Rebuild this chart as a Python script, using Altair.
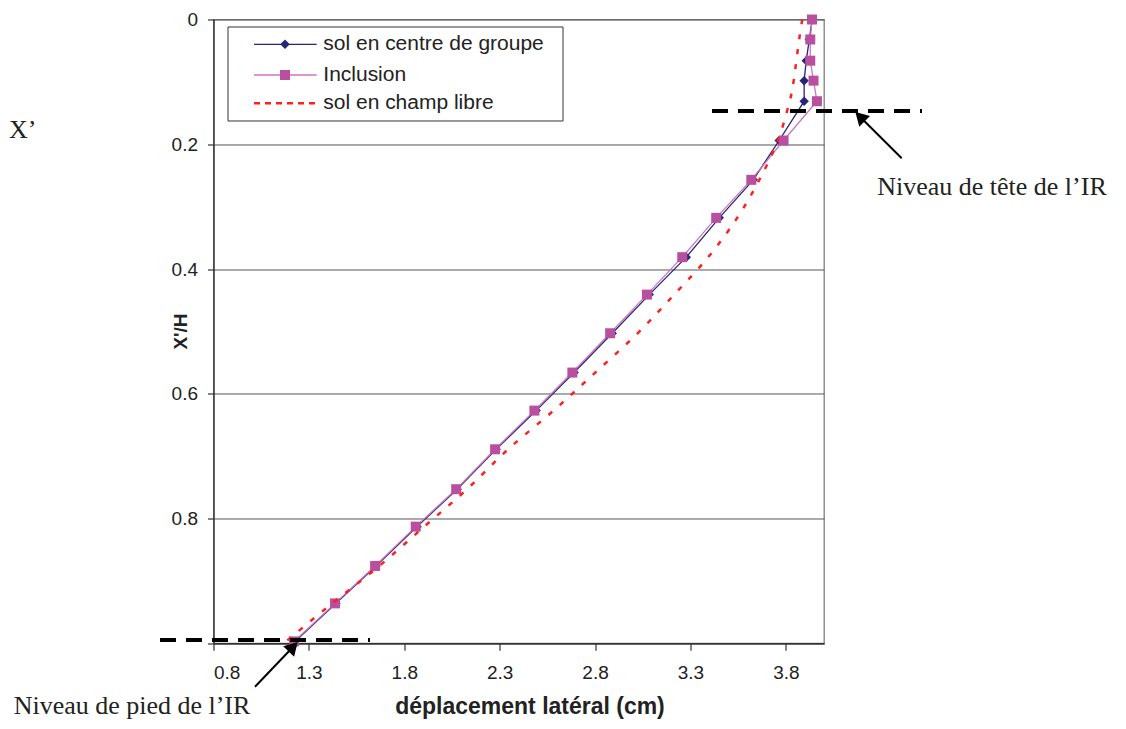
import altair as alt
import pandas as pd

# ---- data ----
depth = [0, 0.032, 0.066, 0.098, 0.131, 0.194, 0.257, 0.318, 0.381, 0.441,
         0.503, 0.566, 0.627, 0.689, 0.753, 0.813, 0.876, 0.936, 0.997]
centre = [3.938, 3.923, 3.907, 3.896, 3.896, 3.765, 3.629, 3.451, 3.278, 3.084,
          2.890, 2.690, 2.491, 2.281, 2.077, 1.867, 1.652, 1.442, 1.227]
inclusion = [3.937, 3.928, 3.928, 3.945, 3.963, 3.788, 3.619, 3.435, 3.257, 3.072,
             2.879, 2.681, 2.482, 2.276, 2.072, 1.860, 1.647, 1.437, 1.222]
libre = [3.886, 3.870, 3.855, 3.841, 3.820, 3.758, 3.661, 3.545, 3.393, 3.215,
         3.023, 2.801, 2.582, 2.344, 2.129, 1.904, 1.669, 1.422, 1.180]
series_names = ["sol en centre de groupe", "Inclusion", "sol en champ libre"]
x_ticks = [0.8, 1.3, 1.8, 2.3, 2.8, 3.3, 3.8]
y_ticks = [0, 0.2, 0.4, 0.6, 0.8, 1.0]
x_title = "déplacement latéral (cm)"
y_title = "X'/H"
note_tete = "Niveau de tête de l\u2019IR"
note_pied = "Niveau de pied de l\u2019IR"
note_x = "X\u2019"

# ---- layout ----
W, H = 610.5, 623.8
X_DOM = [0.8, 4.0]
PAD = {"left": 205.5, "top": 11.5, "right": 292, "bottom": 77.5}


def dx(px):  # page pixel -> data x
    return X_DOM[0] + (px - 8 - PAD["left"]) / W * (X_DOM[1] - X_DOM[0])


def dy(py):  # page pixel -> data y
    return (py - 8 - PAD["top"]) / H


NAVY = "#262678"
MAG = "#b9509f"
PINK = "#cf74c0"
RED = "#ff1f1f"
SANS = "Liberation Sans"
SERIF = "Liberation Serif"

rows = []
for name, vals in zip(series_names, [centre, inclusion, libre]):
    for i, (d, v) in enumerate(zip(depth, vals)):
        rows.append({"series": name, "idx": i, "depth": d, "disp": v})
df = pd.DataFrame(rows)

xs = alt.Scale(domain=X_DOM, nice=False, zero=False)
ys = alt.Scale(domain=[0, 1], reverse=True, nice=False, zero=False)

x_axis = alt.Axis(values=x_ticks, format=".1f", grid=False, tickSize=7,
                  labelPadding=13, labelFontSize=19, labelFont=SANS,
                  labelColor="#222", title=x_title, titleFont=SANS,
                  titleFontSize=23, titleFontWeight="bold", titleColor="#222",
                  titleX=316, titleY=63, titleBaseline="middle",
                  titleAlign="center")
y_axis = alt.Axis(values=y_ticks, format=".1~f",
                  labelExpr="datum.value == 1 ? '' : datum.label",
                  grid=True, gridColor="#555", gridWidth=1, tickSize=6,
                  labelPadding=10, labelFontSize=19, labelFont=SANS,
                  labelColor="#222", title=y_title, titleFont=SANS,
                  titleFontSize=19, titleFontWeight="bold", titleColor="#222",
                  titleX=-33.5, titleY=311.5, titleAngle=270,
                  titleAlign="center", titleBaseline="middle")


def X(field):
    return alt.X(field, type="quantitative", scale=xs, axis=x_axis)


def Y(field):
    return alt.Y(field, type="quantitative", scale=ys, axis=y_axis)


def enc_xy():
    return dict(x=X("disp"), y=Y("depth"), order=alt.Order("idx:Q"))


base = alt.Chart(df)
l_centre = base.transform_filter(alt.datum.series == series_names[0]).mark_line(
    color=NAVY, strokeWidth=1.3).encode(**enc_xy())
p_centre = base.transform_filter(alt.datum.series == series_names[0]).mark_point(
    shape="diamond", filled=True, color=NAVY, size=90, opacity=1).encode(**enc_xy())
l_incl = base.transform_filter(alt.datum.series == series_names[1]).mark_line(
    color=PINK, strokeWidth=1.3).encode(**enc_xy())
p_incl = base.transform_filter(alt.datum.series == series_names[1]).mark_point(
    shape="square", filled=True, color=MAG, size=100, opacity=1).encode(**enc_xy())
l_libre = base.transform_filter(alt.datum.series == series_names[2]).mark_line(
    color=RED, strokeWidth=2.5, strokeDash=[5, 10], interpolate="cardinal").encode(**enc_xy())

# ---- annotations ----
dash_df = pd.DataFrame({"x": [dx(712), dx(160)], "x2": [dx(922), dx(370)],
                        "y": [dy(111), dy(640)]})
dashes = alt.Chart(dash_df).mark_rule(color="black", strokeWidth=4,
                                      strokeDash=[16, 10]).encode(
    x=X("x"), x2="x2:Q", y=Y("y"))

arrow_df = pd.DataFrame({"x": [dx(901.7), dx(255)], "x2": [dx(860), dx(293.2)],
                         "y": [dy(158.3), dy(686.7)], "y2": [dy(116.7), dy(646.8)],
                         "angle": [315, 44]})
arrow_lines = alt.Chart(arrow_df).mark_rule(color="black", strokeWidth=2).encode(
    x=X("x"), x2="x2:Q", y=Y("y"), y2="y2:Q")
arrow_heads = alt.Chart(arrow_df).mark_point(
    shape="triangle-up", filled=True, color="black", size=230, opacity=1).encode(
    x=X("x2"), y=Y("y2"), angle=alt.Angle("angle:Q", scale=None))

notes_df = pd.DataFrame({"x": [dx(992), dx(132)], "y": [dy(195.5), dy(714)],
                         "t": [note_tete, note_pied]})
notes = alt.Chart(notes_df).mark_text(font=SERIF, fontSize=26, color="#222",
                                      align="center", baseline="alphabetic").encode(
    x=X("x"), y=Y("y"), text="t:N")
xnote_df = pd.DataFrame({"x": [dx(9)], "y": [dy(138)], "t": [note_x]})
xnote = alt.Chart(xnote_df).mark_text(font=SERIF, fontSize=26, color="#222",
                                      align="left", baseline="alphabetic").encode(
    x=X("x"), y=Y("y"), text="t:N")

# ---- custom legend (pixel positions inside plot area) ----
one = pd.DataFrame({"k": [0]})
leg_box = alt.Chart(one).mark_rect(fill="white", stroke="#333", strokeWidth=1).encode(
    x=alt.value(14.5), x2=alt.value(349.5), y=alt.value(7.5), y2=alt.value(101.5))
row_y = [24.8, 55.5, 83.8]
leg_layers = [leg_box]
leg_layers.append(alt.Chart(one).mark_rule(color=NAVY, strokeWidth=1.3).encode(
    x=alt.value(40.5), x2=alt.value(103.2), y=alt.value(row_y[0])))
leg_layers.append(alt.Chart(one).mark_point(shape="diamond", filled=True, color=NAVY,
                                            size=90, opacity=1).encode(
    x=alt.value(71.5), y=alt.value(row_y[0])))
leg_layers.append(alt.Chart(one).mark_rule(color=PINK, strokeWidth=1.3).encode(
    x=alt.value(40.5), x2=alt.value(103.2), y=alt.value(row_y[1])))
leg_layers.append(alt.Chart(one).mark_point(shape="square", filled=True, color=MAG,
                                            size=100, opacity=1).encode(
    x=alt.value(71.5), y=alt.value(row_y[1])))
leg_layers.append(alt.Chart(one).mark_rule(color=RED, strokeWidth=2.5,
                                           strokeDash=[6, 5]).encode(
    x=alt.value(40.5), x2=alt.value(103.2), y=alt.value(row_y[2])))
for name, yy in zip(series_names, row_y):
    leg_layers.append(alt.Chart(one).mark_text(
        text=name, font=SANS, fontSize=21, color="#222", align="left",
        baseline="middle").encode(x=alt.value(109.8), y=alt.value(yy)))

chart = alt.layer(
    l_centre, p_centre, l_incl, p_incl, l_libre,
    dashes, arrow_lines, arrow_heads, notes, xnote, *leg_layers
).properties(
    width=W, height=H, padding=PAD, autosize="none", background="white"
).configure_view(
    stroke="#808080", strokeWidth=1.3
).configure_axis(
    domainColor="#333", domainWidth=1.4, tickColor="#333", tickWidth=1.2
)

chart.save("out.html", embed_options={"renderer": "svg", "actions": False})
